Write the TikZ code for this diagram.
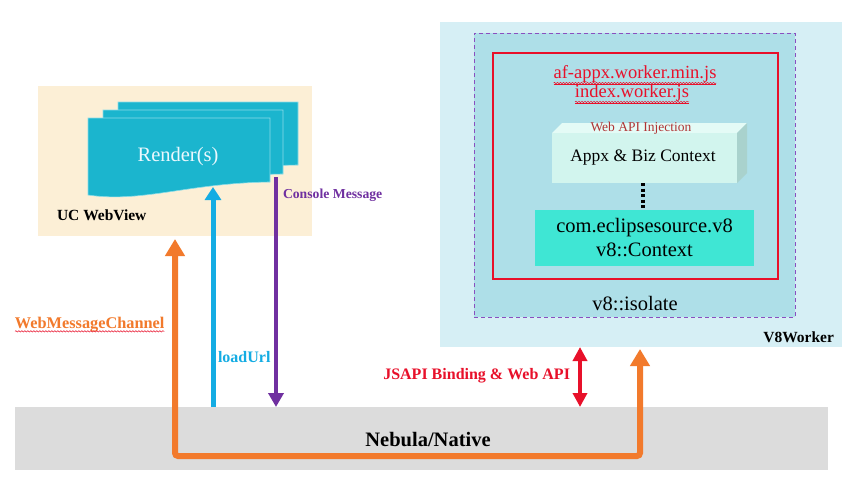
\documentclass[tikz,border=0pt]{standalone}
\usepackage{fontspec}
\setmainfont{Liberation Serif}
\usetikzlibrary{arrows.meta,decorations.pathmorphing,calc}
\definecolor{beige}{HTML}{FCEFD6}
\definecolor{rendc}{HTML}{1BB5CE}
\definecolor{rendedge}{HTML}{8ADCE8}
\definecolor{workerbg}{HTML}{D6EFF5}
\definecolor{isobg}{HTML}{AEDFE8}
\definecolor{tealc}{HTML}{3FE6D4}
\definecolor{mintfront}{HTML}{D2F5EE}
\definecolor{minttop}{HTML}{E4FBF6}
\definecolor{mintside}{HTML}{A9D2CD}
\definecolor{bandgray}{HTML}{DCDCDC}
\definecolor{orangec}{HTML}{F27A2C}
\definecolor{cyanc}{HTML}{14ACE3}
\definecolor{purplec}{HTML}{7030A0}
\definecolor{redc}{HTML}{E8102A}
\definecolor{dashpurple}{HTML}{8A4FC0}
\definecolor{darkred}{HTML}{B03434}
\tikzset{
  panel/.style={inner sep=0pt, outer sep=0pt, anchor=north west},
  lbl/.style={inner sep=0pt, outer sep=0pt},
  spell/.style={draw=redc, line width=0.5pt, decorate, decoration={snake, segment length=3pt, amplitude=0.7pt}},
  docpage/.style={fill=rendc, draw=rendedge, line width=0.6pt},
}
\begin{document}
\begin{tikzpicture}[x=1pt,y=-1pt]
\useasboundingbox[fill=white] (0,0) rectangle (855,480);

% UC WebView panel
\node[panel, fill=beige, minimum width=274pt, minimum height=150pt] (webview) at (38,86) {};
% stacked documents
\path[docpage] (118,102) -- (298,102) -- (298,165) .. controls (220,166) and (170,180) .. (118,178) -- cycle;
\path[docpage] (103,110) -- (283,110) -- (283,174) .. controls (205,175) and (155,190) .. (103,187) -- cycle;
\path[docpage] (88,118) -- (270,118) -- (270,182) .. controls (188,183) and (143,203) .. (88,195) -- cycle;
\node[lbl, text=white!92!cyan, font=\fontsize{20.5}{24}\selectfont] (render) at (178,157) {Render(s)};
\node[lbl, font=\bfseries\fontsize{15.5}{18}\selectfont, anchor=west] (ucwv) at (57,215) {UC WebView};
\coordinate (rendbot) at (213,187);
\coordinate (consoletop) at (276,177);

% V8Worker panel
\node[panel, fill=workerbg, minimum width=402pt, minimum height=325pt] (v8w) at (440,22) {};
\node[panel, fill=isobg, draw=dashpurple, line width=1pt, dash pattern=on 4pt off 3pt, minimum width=321pt, minimum height=284pt] (iso) at (474,33) {};
\node[panel, draw=redc, line width=2pt, minimum width=285pt, minimum height=226pt] (ctxbox) at (493,53) {};
\node[lbl, text=redc, font=\fontsize{18.5}{20}\selectfont] (af1) at (635,75) {\underline{af-appx.worker.min.js}};
\node[lbl, text=redc, font=\fontsize{18.5}{20}\selectfont] (af2) at (632,94) {\underline{index.worker.js}};
\path[spell] ($(af1.base west)+(0,4.5)$) -- ($(af1.base east)+(0,4.5)$);
\path[spell] ($(af2.base west)+(0,4.5)$) -- ($(af2.base east)+(0,4.5)$);

% 3D box
\path[fill=minttop] (552,133) -- (562,123) -- (747,123) -- (737,133) -- cycle;
\path[fill=mintside] (737,133) -- (747,123) -- (747,173) -- (737,183) -- cycle;
\node[panel, fill=mintfront, minimum width=185pt, minimum height=50pt] (appx) at (552,133) {};
\node[lbl, text=darkred, font=\fontsize{13.5}{15}\selectfont] (inject) at (641,128) {Web API Injection};
\node[lbl, font=\fontsize{17.5}{20}\selectfont] (appxtxt) at (643,158) {Appx \& Biz Context};

\node[panel, fill=tealc, minimum width=219pt, minimum height=56pt] (v8ctx) at (535,210) {};
\node[lbl, font=\fontsize{20.5}{24}\selectfont, align=center] (v8ctxtxt) at (v8ctx.center) {com.eclipsesource.v8\\v8::Context};
\draw[line width=3.5pt, dash pattern=on 3pt off 2.5pt] (appx.south -| 643,0) -- (v8ctx.north -| 643,0);

\node[lbl, font=\fontsize{20.5}{24}\selectfont] (isolate) at (635,304) {v8::isolate};
\node[lbl, font=\bfseries\fontsize{15.5}{18}\selectfont, anchor=east] (v8wl) at (834,337) {V8Worker};

% Nebula band
\node[panel, fill=bandgray, minimum width=813pt, minimum height=63pt] (nebula) at (15,407) {};
\node[lbl, font=\bfseries\fontsize{20.5}{24}\selectfont] (nebtxt) at (428,440) {Nebula/Native};

% connectors
\coordinate (oL) at (175,239);
\coordinate (oR) at (640,349);
\coordinate (oB) at (0,456);
\draw[orangec, line width=6pt, rounded corners=3pt,
      {Triangle[width=19pt,length=17pt]}-{Triangle[width=19pt,length=17pt]}]
  (oL) |- (oR |- oB) -- (oR);

\draw[cyanc, line width=5pt, -{Triangle[width=16pt,length=13pt]}] (nebula.north -| rendbot) -- (rendbot);
\draw[purplec, line width=4pt, -{Triangle[width=15pt,length=14pt]}] (consoletop) -- (nebula.north -| consoletop);
\coordinate (jsx) at (580,0);
\draw[redc, line width=4pt, {Triangle[width=14pt,length=14pt]}-{Triangle[width=14pt,length=14pt]}] (v8w.south -| jsx) -- (nebula.north -| jsx);

% labels
\node[lbl, text=purplec, font=\bfseries\fontsize{13.7}{16}\selectfont, anchor=west] (conslbl) at (283,195) {Console Message};
\node[lbl, text=cyanc, font=\bfseries\fontsize{16}{18}\selectfont, anchor=west] (loadlbl) at (218,357) {loadUrl};
\node[lbl, text=orangec, font=\bfseries\fontsize{16.3}{18}\selectfont, anchor=west] (wmc) at (15,325) {WebMessageChannel};
\path[spell] ($(wmc.base west)+(0,2.5)$) -- ($(wmc.base east)+(0,2.5)$);
\node[lbl, text=redc, font=\bfseries\fontsize{16}{18}\selectfont, anchor=east] (jsapi) at (570,376) {JSAPI Binding \& Web API};
\end{tikzpicture}
\end{document}
